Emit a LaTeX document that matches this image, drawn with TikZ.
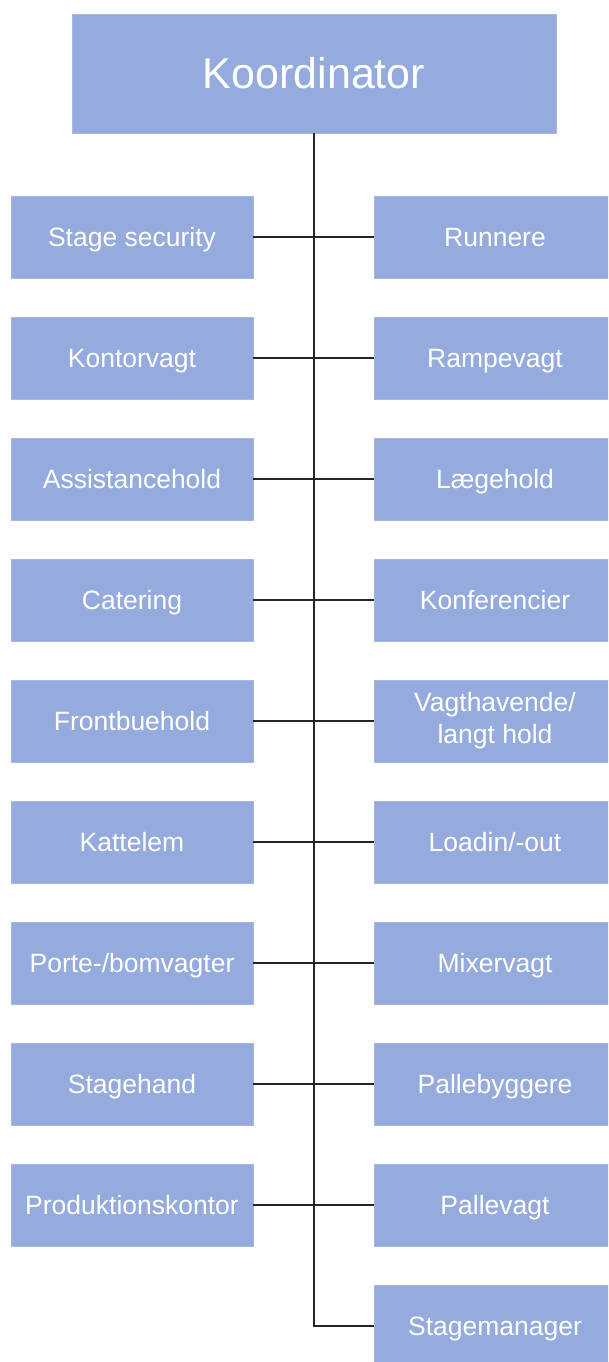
\documentclass[tikz,border=0pt]{standalone}
\usepackage{fontspec}
\setmainfont{Liberation Sans}
\definecolor{boxblue}{RGB}{149,170,221}
\begin{document}
\begin{tikzpicture}[x=1pt,y=-1pt,
  box/.style={draw=boxblue!85!white, line width=0.8pt, fill=boxblue, text=white, inner sep=0pt,
    minimum height=82pt, minimum width=242pt, align=center, font=\fontsize{26.5}{32}\selectfont},
  onel/.style={text height=25pt, text depth=6pt},
  conn/.style={line width=1.5pt, draw=black!85}]
\useasboundingbox (0,0) rectangle (608,1362);
\begin{scope}
\clip (0,0) rectangle (608,1362);
\node[box, minimum width=484pt, minimum height=119pt, font=\fontsize{43}{50}\selectfont] (top) at (314,73.5) {Koordinator};
\foreach \i/\t in {0/{Stage security},1/{Kontorvagt},2/{Assistancehold},3/{Catering},4/{Frontbuehold},5/{Kattelem},6/{Porte-/bomvagter},7/{Stagehand},8/{Produktionskontor}}
  \node[box, onel] (l\i) at (132,237+121*\i) {\t};
\foreach \i/\t in {0/{Runnere},1/{Rampevagt},2/{Lægehold},3/{Konferencier},5/{Loadin/-out},6/{Mixervagt},7/{Pallebyggere},8/{Pallevagt},9/{Stagemanager}}
  \node[box, onel] (r\i) at (495,237+121*\i) {\t};
\node[box] (r4) at (495,721) {Vagthavende/\\langt hold};
\draw[conn] (top.south) -- (top.south |- r9.west) -- (r9.west);
\foreach \i in {0,...,8}
  \draw[conn] (l\i.east) -- (r\i.west);
\end{scope}
\end{tikzpicture}
\end{document}
